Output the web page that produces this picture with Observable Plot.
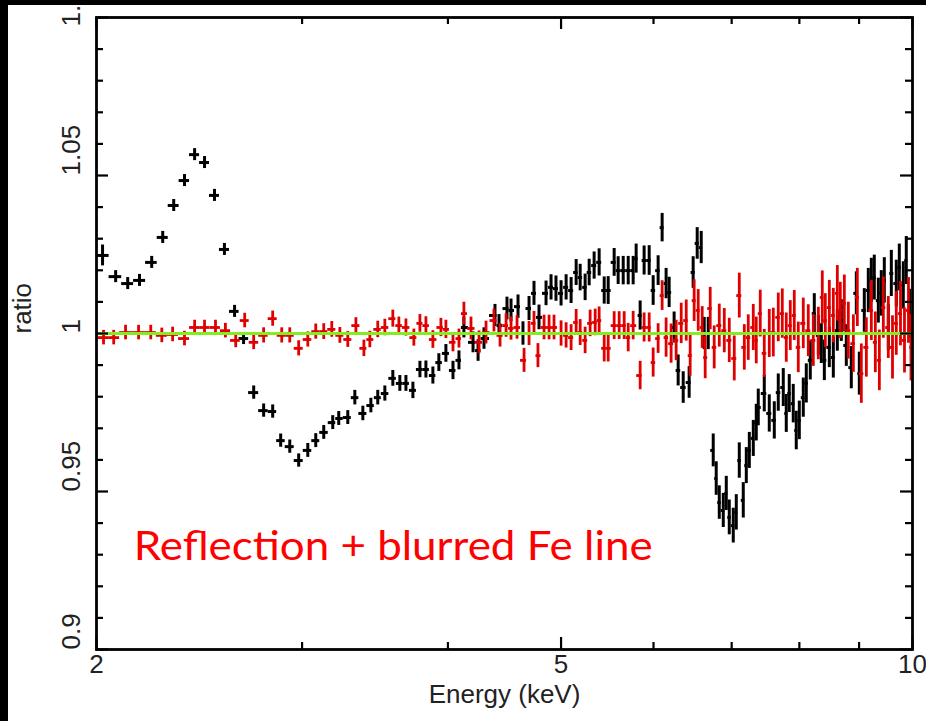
<!DOCTYPE html>
<html><head><meta charset="utf-8">
<script src="https://cdn.jsdelivr.net/npm/d3@7"></script>
<script src="https://cdn.jsdelivr.net/npm/@observablehq/plot@0.6"></script>
<style>
html,body{margin:0;padding:0;background:#fff;width:926px;height:721px;overflow:hidden;}
#wrap{position:relative;width:926px;height:721px;}
#wrap svg{position:absolute;left:0;top:0;}
.band{position:absolute;background:#000;z-index:5;}
</style></head><body>
<div id="wrap"></div>
<script>
// [energy keV, ratio, 1-sigma error] — black data set
const blackData = [
[2.024,1.0247,.0033],[2.077,1.0180,.0019],[2.127,1.0158,.0019],[2.177,1.0168,.0019],[2.230,1.0225,.0019],
[2.279,1.0304,.0019],[2.329,1.0405,.0019],[2.379,1.0484,.0019],[2.427,1.0566,.0019],[2.475,1.0541,.0019],
[2.524,1.0437,.0019],[2.574,1.0266,.0019],[2.626,1.0070,.0019],[2.673,0.9984,.0019],[2.727,0.9813,.0021],
[2.781,0.9756,.0021],[2.831,0.9753,.0021],[2.876,0.9661,.0021],[2.928,0.9642,.0021],[2.980,0.9598,.0021],
[3.034,0.9630,.0022],[3.082,0.9661,.0022],[3.131,0.9687,.0022],[3.187,0.9718,.0022],[3.225,0.9731,.0022],
[3.283,0.9734,.0022],[3.329,0.9797,.0023],[3.382,0.9747,.0023],[3.436,0.9772,.0023],[3.483,0.9797,.0023],
[3.532,0.9810,.0024],[3.588,0.9858,.0025],[3.638,0.9842,.0025],[3.682,0.9842,.0025],[3.733,0.9820,.0026],
[3.785,0.9886,.0026],[3.830,0.9886,.0027],[3.883,0.9867,.0027],[3.929,0.9908,.0028],[3.984,0.9937,.0028],
[4.040,0.9883,.0029],[4.088,0.9915,.0030],[4.128,1.0019,.0033],[4.203,0.9972,.0033],[4.245,0.9946,.0034],
[4.295,0.9984,.0034],[4.389,1.0057,.0035],[4.424,1.0025,.0035],[4.494,1.0079,.0036],[4.530,1.0073,.0036],
[4.593,1.0085,.0037],[4.638,1.0000,.0037],[4.694,1.0079,.0038],[4.740,1.0127,.0038],[4.787,1.0051,.0039],
[4.854,1.0127,.0039],[4.902,1.0146,.0040],[4.950,1.0142,.0040],[5.000,1.0127,.0040],[5.050,1.0146,.0040],
[5.100,1.0136,.0041],[5.151,1.0193,.0041],[5.192,1.0177,.0042],[5.243,1.0146,.0042],[5.285,1.0193,.0042],
[5.337,1.0215,.0043],[5.390,1.0225,.0043],[5.444,1.0136,.0043],[5.487,1.0136,.0044],[5.552,1.0225,.0044],
[5.596,1.0199,.0044],[5.652,1.0199,.0045],[5.708,1.0199,.0045],[5.764,1.0199,.0045],[5.798,1.0237,.0046],
[5.844,1.0057,.0046],[5.890,1.0231,.0046],[5.949,1.0231,.0047],[5.996,1.0136,.0047],[6.055,1.0199,.0047],
[6.103,1.0335,.0045],[6.151,1.0158,.0048],[6.188,1.0130,.0048],[6.249,1.0019,.0049],[6.299,0.9883,.0049],
[6.362,0.9829,.0050],[6.437,0.9845,.0050],[6.488,1.0193,.0050],[6.540,1.0285,.0050],[6.592,1.0272,.0051],
[6.631,1.0000,.0051],[6.684,1.0000,.0051],[6.750,0.9630,.0052],[6.790,0.9541,.0053],[6.831,0.9465,.0053],
[6.885,0.9440,.0054],[6.926,0.9494,.0054],[6.967,0.9418,.0055],[7.022,0.9392,.0055],[7.064,0.9434,.0056],
[7.106,0.9598,.0056],[7.162,0.9472,.0056],[7.205,0.9582,.0057],[7.248,0.9630,.0057],[7.305,0.9668,.0057],
[7.348,0.9718,.0058],[7.377,0.9766,.0058],[7.465,0.9810,.0058],[7.539,0.9747,.0059],[7.614,0.9725,.0059],
[7.674,0.9813,.0059],[7.750,0.9829,.0060],[7.796,0.9747,.0060],[7.842,0.9810,.0060],[7.904,0.9778,.0061],
[7.951,0.9693,.0061],[7.999,0.9725,.0061],[8.062,0.9797,.0062],[8.110,0.9842,.0062],[8.174,0.9915,.0062],
[8.239,1.0063,.0063],[8.305,0.9994,.0063],[8.354,0.9968,.0063],[8.404,0.9915,.0064],[8.487,0.9956,.0064],
[8.554,0.9924,.0065],[8.622,1.0009,.0065],[8.690,1.0041,.0066],[8.776,0.9962,.0066],[8.863,0.9892,.0067],
[8.951,1.0127,.0068],[9.004,0.9873,.0068],[9.093,1.0073,.0069],[9.165,1.0136,.0070],[9.220,1.0168,.0070],
[9.274,1.0177,.0071],[9.348,1.0104,.0071],[9.403,1.0127,.0072],[9.459,1.0168,.0072],[9.534,1.0019,.0073],
[9.591,1.0190,.0073],[9.685,1.0158,.0074],[9.743,1.0209,.0074],[9.820,1.0152,.0075],[9.878,1.0231,.0076],
[9.940,1.0063,.0077]
];
// [energy keV, ratio, 1-sigma error] — red data set
const redData = [
[2.028,0.9987,.0023],[2.069,0.9987,.0023],[2.118,1.0003,.0023],[2.173,1.0003,.0023],[2.226,1.0003,.0023],
[2.275,0.9994,.0023],[2.324,0.9997,.0023],[2.379,0.9984,.0023],[2.427,1.0019,.0023],[2.475,1.0019,.0023],
[2.529,1.0019,.0023],[2.579,1.0009,.0023],[2.632,0.9978,.0023],[2.679,1.0041,.0023],[2.727,0.9972,.0023],
[2.781,0.9994,.0024],[2.831,1.0047,.0024],[2.882,0.9994,.0024],[2.928,0.9994,.0024],[2.980,0.9953,.0024],
[3.034,0.9981,.0024],[3.082,1.0006,.0024],[3.131,1.0006,.0025],[3.181,1.0013,.0025],[3.232,0.9994,.0025],
[3.283,0.9981,.0025],[3.336,1.0025,.0025],[3.389,0.9953,.0026],[3.429,0.9981,.0026],[3.483,1.0013,.0026],
[3.532,1.0019,.0026],[3.588,1.0047,.0027],[3.631,1.0025,.0027],[3.682,1.0019,.0027],[3.740,0.9987,.0027],
[3.785,1.0032,.0028],[3.830,1.0025,.0028],[3.883,0.9981,.0028],[3.945,1.0019,.0029],[3.984,1.0013,.0029],
[4.040,0.9972,.0030],[4.088,0.9984,.0030],[4.128,1.0063,.0036],[4.186,1.0016,.0036],[4.253,0.9972,.0036],
[4.312,1.0003,.0036],[4.380,1.0041,.0036],[4.433,0.9994,.0037],[4.486,1.0025,.0037],[4.530,1.0016,.0037],
[4.584,1.0019,.0037],[4.648,0.9915,.0038],[4.694,1.0000,.0038],[4.740,1.0032,.0038],[4.777,0.9930,.0038],
[4.835,1.0019,.0039],[4.883,1.0019,.0039],[4.931,1.0019,.0039],[5.000,1.0000,.0040],[5.050,0.9994,.0040],
[5.100,0.9987,.0041],[5.151,1.0035,.0041],[5.192,1.0003,.0041],[5.243,0.9978,.0042],[5.295,1.0032,.0042],
[5.348,1.0035,.0042],[5.390,1.0041,.0043],[5.444,0.9953,.0043],[5.487,0.9953,.0043],[5.552,1.0025,.0044],
[5.607,1.0025,.0044],[5.663,1.0025,.0044],[5.708,0.9987,.0045],[5.764,1.0025,.0045],[5.844,0.9867,.0045],
[5.890,1.0019,.0046],[5.949,1.0019,.0046],[5.996,0.9908,.0046],[6.055,0.9984,.0047],[6.103,1.0120,.0047],
[6.151,0.9987,.0062],[6.212,0.9968,.0062],[6.274,0.9978,.0064],[6.337,1.0032,.0064],[6.400,1.0041,.0065],
[6.450,0.9930,.0065],[6.501,1.0104,.0066],[6.553,1.0073,.0066],[6.605,1.0019,.0066],[6.644,0.9924,.0067],
[6.710,1.0079,.0067],[6.763,0.9956,.0068],[6.831,1.0025,.0068],[6.899,1.0009,.0070],[6.967,0.9978,.0070],
[7.036,0.9921,.0071],[7.106,1.0120,.0071],[7.177,0.9956,.0072],[7.233,0.9987,.0072],[7.305,1.0019,.0073],
[7.348,0.9978,.0074],[7.406,1.0063,.0074],[7.465,0.9937,.0076],[7.539,1.0000,.0076],[7.599,1.0003,.0077],
[7.674,1.0051,.0077],[7.735,1.0063,.0078],[7.796,0.9987,.0078],[7.858,1.0025,.0079],[7.920,1.0057,.0079],
[7.983,0.9956,.0080],[8.062,1.0032,.0080],[8.142,1.0009,.0082],[8.223,0.9978,.0082],[8.305,1.0000,.0083],
[8.370,1.0114,.0084],[8.420,1.0041,.0085],[8.487,1.0082,.0086],[8.554,1.0057,.0086],[8.622,1.0127,.0088],
[8.673,1.0073,.0089],[8.742,1.0095,.0090],[8.811,1.0009,.0090],[8.899,0.9968,.0091],[8.969,1.0114,.0092],
[9.040,0.9873,.0094],[9.130,0.9956,.0094],[9.220,1.0073,.0095],[9.293,0.9972,.0096],[9.367,0.9915,.0096],
[9.441,1.0082,.0097],[9.534,1.0019,.0098],[9.613,0.9956,.0100],[9.685,1.0032,.0101],[9.766,1.0063,.0102],
[9.843,0.9978,.0103],[9.921,1.0073,.0104],[9.970,0.9956,.0106]
];
const modelLevel = [1.0];
const xMajorTicks = [2, 5, 10];
const xTickLabels = ["2", "5", "10"];
const xMinorTicks = [3, 4, 6, 7, 8, 9];
const yMajorTicks = [0.9, 0.95, 1.0, 1.05, 1.1];
const yTickLabels = ["0.9", "0.95", "1", "1.05", "1.1"];
const yMinorTicks = [0.91,0.92,0.93,0.94,0.96,0.97,0.98,0.99,1.01,1.02,1.03,1.04,1.06,1.07,1.08,1.09];
const xTitle = "Energy (keV)";
const yTitle = "ratio";
const annotation = [{label: "Reflection + blurred Fe line", e: 2.152, r: 0.9323}];

// bins are contiguous: edges at geometric midpoints of neighbouring centres
function withBins(arr) {
  return arr.map((d, i) => {
    const prev = i > 0 ? arr[i-1][0] : null, next = i < arr.length-1 ? arr[i+1][0] : null;
    const hi = next ? Math.sqrt(d[0]*next) : d[0]*d[0]/Math.sqrt(d[0]*prev);
    const lo = prev ? Math.sqrt(d[0]*prev) : d[0]*d[0]/hi;
    return {e: d[0], r: d[1], err: d[2], lo, hi};
  });
}
const black = withBins(blackData);
const red = withBins(redData);

const W = 926, H = 721, mL = 96, mR = 14, mT = 17, mB = 72;
const iW = W - mL - mR, iH = H - mT - mB;
const minorLen = 7, majorLen = 12;
const axisFont = "'Liberation Sans', Arial, Helvetica, sans-serif";
const axisSize = 26;
const inkB = "#000", inkR = "#e00000";
const yLab = yMajorTicks.map((v, i) => ({v, t: yTickLabels[i], top: i === yMajorTicks.length - 1}));

const chart = Plot.plot({
  width: W, height: H,
  marginLeft: mL, marginRight: mR, marginTop: mT, marginBottom: mB,
  x: {type: "log", domain: [2, 10], axis: null},
  y: {domain: [0.9, 1.1], axis: null},
  style: {background: "white", fontFamily: axisFont},
  marks: [
    Plot.ruleX(black, {x: "e", y1: d => d.r - d.err, y2: d => d.r + d.err, stroke: inkB, strokeWidth: 3, clip: true}),
    Plot.ruleY(black, {y: "r", x1: "lo", x2: "hi", stroke: inkB, strokeWidth: 3, clip: true}),
    Plot.ruleX(red, {x: "e", y1: d => d.r - d.err, y2: d => d.r + d.err, stroke: inkR, strokeWidth: 2.8, clip: true}),
    Plot.ruleY(red, {y: "r", x1: "lo", x2: "hi", stroke: inkR, strokeWidth: 2.8, clip: true}),
    Plot.ruleY(modelLevel, {y: d => d, stroke: "#82ee22", strokeWidth: 3}),
    // inward ticks on all four sides
    Plot.tickX(xMinorTicks, {x: d => d, insetTop: iH - minorLen, stroke: inkB, strokeWidth: 2.2}),
    Plot.tickX(xMinorTicks, {x: d => d, insetBottom: iH - minorLen, stroke: inkB, strokeWidth: 2.2}),
    Plot.tickX(xMajorTicks, {x: d => d, insetTop: iH - majorLen, stroke: inkB, strokeWidth: 2.2}),
    Plot.tickX(xMajorTicks, {x: d => d, insetBottom: iH - majorLen, stroke: inkB, strokeWidth: 2.2}),
    Plot.tickY(yMinorTicks, {y: d => d, insetRight: iW - minorLen, stroke: inkB, strokeWidth: 2.2}),
    Plot.tickY(yMinorTicks, {y: d => d, insetLeft: iW - minorLen, stroke: inkB, strokeWidth: 2.2}),
    Plot.tickY(yMajorTicks, {y: d => d, insetRight: iW - majorLen, stroke: inkB, strokeWidth: 2.2}),
    Plot.tickY(yMajorTicks, {y: d => d, insetLeft: iW - majorLen, stroke: inkB, strokeWidth: 2.2}),
    Plot.frame({stroke: inkB, strokeWidth: 2.8}),
    // tick labels and titles
    Plot.text(yLab.filter(d => !d.top), {y: "v", text: "t", frameAnchor: "left", dx: -25, rotate: -90,
      fontSize: axisSize, fill: "#222"}),
    Plot.text(yLab.filter(d => d.top), {y: "v", text: "t", frameAnchor: "left", dx: -25, dy: 9, rotate: -90,
      fontSize: axisSize, fill: "#222"}),
    Plot.text(xMajorTicks, {x: d => d, text: (d, i) => xTickLabels[i], frameAnchor: "bottom", dy: 23,
      fontSize: axisSize, fill: "#222"}),
    Plot.text([xTitle], {text: d => d, frameAnchor: "bottom", dy: 53, fontSize: axisSize, fill: "#222"}),
    Plot.text([yTitle], {text: d => d, frameAnchor: "left", dx: -74, rotate: -90, fontSize: axisSize, fill: "#222"}),
    Plot.text(annotation, {x: "e", y: "r", text: "label", textAnchor: "start", fill: "#ff0000",
      fontSize: 40, fontFamily: "Lato, 'Open Sans', sans-serif"})
  ]
});

const wrap = document.getElementById("wrap");
wrap.appendChild(chart);
// black border of the slide
const b1 = document.createElement("div"); b1.className = "band";
Object.assign(b1.style, {left: "0px", top: "0px", width: "8px", height: "721px"});
const b2 = document.createElement("div"); b2.className = "band";
Object.assign(b2.style, {left: "0px", top: "0px", width: "926px", height: "5px"});
wrap.appendChild(b1); wrap.appendChild(b2);

// fit the annotation's width to the reference
d3.select(chart).selectAll("text").each(function() {
  if (this.textContent === annotation[0].label) {
    this.setAttribute("textLength", 519);
    this.setAttribute("lengthAdjust", "spacingAndGlyphs");
  }
});
</script>
</body></html>
